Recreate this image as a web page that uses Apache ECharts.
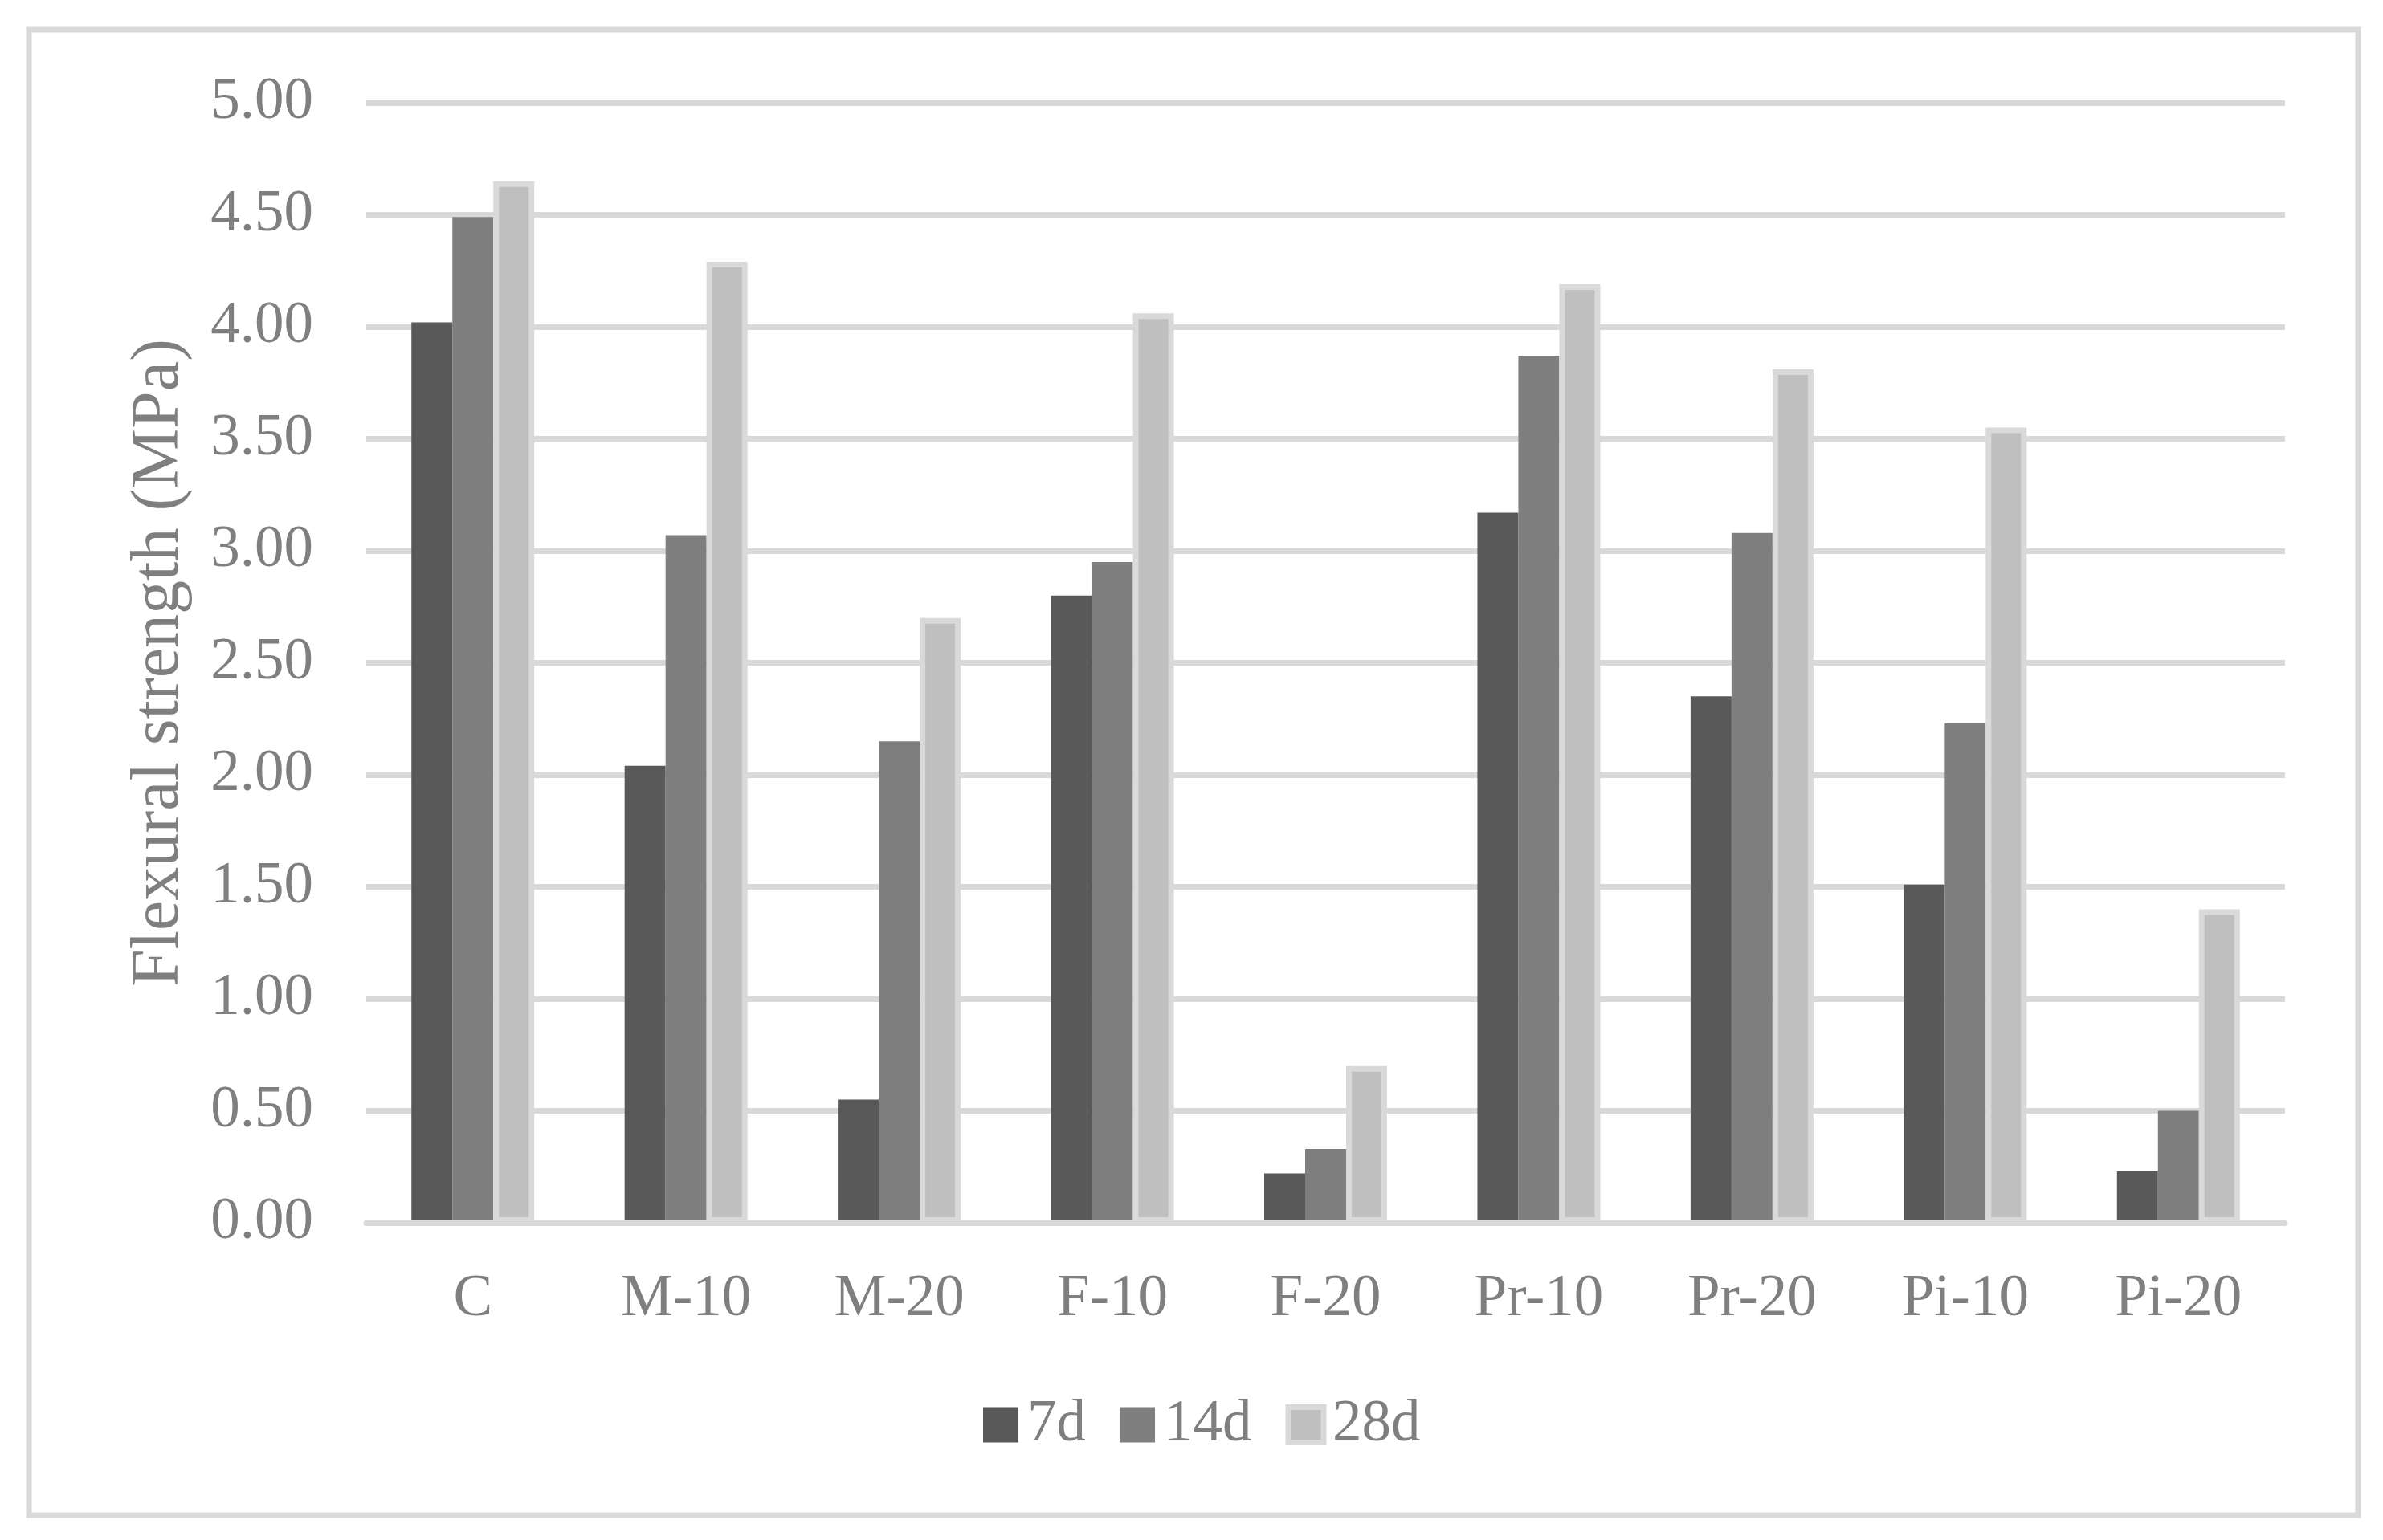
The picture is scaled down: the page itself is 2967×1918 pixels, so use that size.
<!DOCTYPE html>
<html>
<head>
<meta charset="utf-8">
<script src="https://cdn.jsdelivr.net/npm/echarts@6/dist/echarts.min.js"></script>
<style>
html,body{margin:0;padding:0;background:#fff;}
#chart{width:2967px;height:1918px;}
</style>
</head>
<body>
<div id="chart"></div>
<script>
var categories = ['C', 'M-10', 'M-20', 'F-10', 'F-20', 'Pr-10', 'Pr-20', 'Pi-10', 'Pi-20'];
var seriesNames = ['7d', '14d', '28d'];
var values7d  = [4.02, 2.04, 0.55, 2.80, 0.22, 3.17, 2.35, 1.51, 0.23];
var values14d = [4.49, 3.07, 2.15, 2.95, 0.33, 3.87, 3.08, 2.23, 0.50];
var values28d = [4.65, 4.29, 2.70, 4.06, 0.70, 4.19, 3.81, 3.55, 1.40];
var yTicks = { min: 0, max: 5, interval: 0.5 };
var yAxisTitle = 'Flexural strength (MPa)';

var FONT = '"Liberation Serif", "Times New Roman", serif';
var TXT = '#7f7f7f';
var GRID = '#d9d9d9';

var chart = echarts.init(document.getElementById('chart'), null, { renderer: 'canvas' });
chart.setOption({
  backgroundColor: '#ffffff',
  animation: false,
  graphic: [{
    type: 'rect',
    shape: { x: 36, y: 37, width: 2900, height: 1850 },
    style: { fill: 'none', stroke: GRID, lineWidth: 7 },
    silent: true
  }],
  grid: { left: 456, right: 122, top: 128, bottom: 395, containLabel: false },
  legend: {
    left: 1219,
    top: 1733,
    itemWidth: 44,
    itemHeight: 44,
    itemGap: 42,
    icon: 'rect',
    textStyle: { fontFamily: FONT, fontSize: 73, color: TXT, padding: [0, 0, 0, 6] },
    data: [
      { name: seriesNames[0] },
      { name: seriesNames[1] },
      { name: seriesNames[2], itemStyle: { color: '#bfbfbf', borderColor: GRID, borderWidth: 7 } }
    ]
  },
  xAxis: {
    type: 'category',
    data: categories,
    z: 3,
    axisLine: { show: true, lineStyle: { color: GRID, width: 7 } },
    axisTick: { show: false },
    axisLabel: { fontFamily: FONT, fontSize: 73, color: TXT, margin: 59 }
  },
  yAxis: {
    type: 'value',
    min: yTicks.min,
    max: yTicks.max,
    interval: yTicks.interval,
    name: yAxisTitle,
    nameLocation: 'middle',
    nameRotate: 90,
    nameGap: 215,
    nameTextStyle: { fontFamily: FONT, fontSize: 84, color: TXT },
    axisLine: { show: false },
    axisTick: { show: false },
    splitLine: { show: true, lineStyle: { color: GRID, width: 7 } },
    axisLabel: {
      fontFamily: FONT, fontSize: 73, color: TXT, margin: 66,
      formatter: function (v) { return v.toFixed(2); }
    }
  },
  series: [
    { name: seriesNames[0], type: 'bar', data: values7d, barWidth: 51, barGap: '0%',
      itemStyle: { color: '#595959' } },
    { name: seriesNames[1], type: 'bar', data: values14d, barWidth: 51, barGap: '0%',
      itemStyle: { color: '#7f7f7f' } },
    { name: seriesNames[2], type: 'bar', data: values28d, barWidth: 51, barGap: '0%',
      itemStyle: { color: '#bfbfbf', borderColor: GRID, borderWidth: 7 } }
  ]
});
</script>
</body>
</html>
